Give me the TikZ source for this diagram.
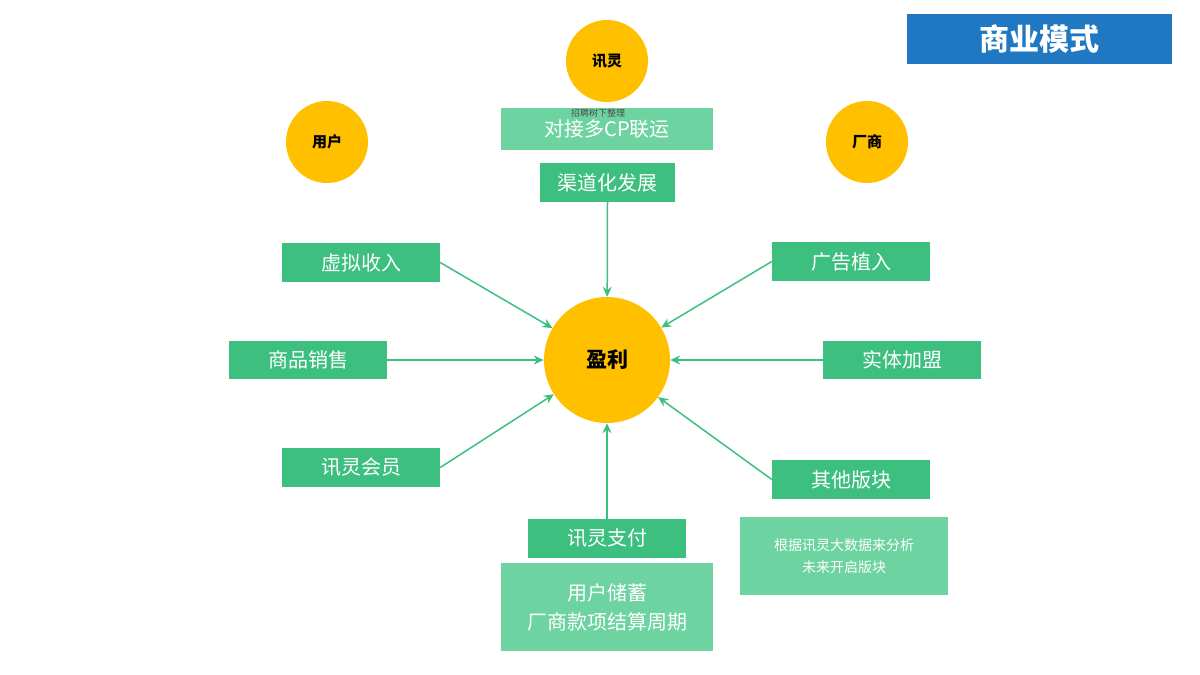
\documentclass[tikz,border=0pt]{standalone}
\usepackage{fontspec}
\newfontfamily\cjk{Noto Sans CJK SC}
\usetikzlibrary{arrows.meta}
\definecolor{gold}{HTML}{FFC000}
\definecolor{gbox}{HTML}{3DBF7F}
\definecolor{lbox}{HTML}{6DD3A0}
\definecolor{tblue}{HTML}{1F78C1}
\begin{document}
\begin{tikzpicture}[x=1pt,y=-1pt,font=\cjk,
  circ/.style={circle,fill=gold,inner sep=0pt},
  gb/.style={fill=gbox,text=white,font=\cjk\fontsize{20}{22}\selectfont},
  lb/.style={fill=lbox,text=white,font=\cjk\fontsize{20}{29}\selectfont,align=center},
  arr/.style={draw=gbox,line width=1.5pt,-{Stealth[length=10pt,width=9pt]}}]
\useasboundingbox (0,0) rectangle (1200,675);
\node[fill=tblue,minimum width=265,minimum height=50,text=white,font=\cjk\bfseries\fontsize{30}{34}\selectfont] (title) at (1039.5,39) {商业模式};
\node[circ,minimum size=82,font=\cjk\bfseries\fontsize{15}{18}\selectfont] (xl) at (607,61) {讯灵};
\node[circ,minimum size=82,font=\cjk\bfseries\fontsize{15}{18}\selectfont] (yh) at (327,142) {用户};
\node[circ,minimum size=82,font=\cjk\bfseries\fontsize{15}{18}\selectfont] (cs) at (867,142) {厂商};
\node[lb,minimum width=212,minimum height=42] (cp) at (607,129) {对接多CP联运};
\node[font=\cjk\fontsize{9}{10}\selectfont,text=black!70] (small) at (598,113) {招聘树下整理};
\node[gb,minimum width=135,minimum height=39] (qd) at (607.5,182.5) {渠道化发展};
\node[circ,minimum size=126,font=\cjk\bfseries\fontsize{21}{24}\selectfont] (yl) at (607,360) {盈利};
\node[gb,minimum width=158,minimum height=39] (xn) at (361,262.5) {虚拟收入};
\node[gb,minimum width=158,minimum height=39] (gg) at (851,261.5) {广告植入};
\node[gb,minimum width=158,minimum height=38] (sp) at (308,360) {商品销售};
\node[gb,minimum width=158,minimum height=38] (st) at (902,360) {实体加盟};
\node[gb,minimum width=158,minimum height=39] (hy) at (361,467.5) {讯灵会员};
\node[gb,minimum width=158,minimum height=39] (qt) at (851,479.5) {其他版块};
\node[gb,minimum width=158,minimum height=39] (zf) at (607,538.5) {讯灵支付};
\node[lb,minimum width=212,minimum height=88] (cx) at (607,607) {用户储蓄\\厂商款项结算周期};
\node[lb,minimum width=208,minimum height=78,font=\cjk\fontsize{14}{22}\selectfont] (fx) at (844,556) {根据讯灵大数据来分析\\未来开启版块};
\draw[arr] (qd.south) -- (yl);
\draw[arr] (zf.north) -- (yl);
\draw[arr] (sp.east) -- (yl);
\draw[arr] (st.west) -- (yl);
\draw[arr] (xn.east) -- (yl);
\draw[arr] (hy.east) -- (yl);
\draw[arr] (gg.west) -- (yl);
\draw[arr] (qt.west) -- (yl);
\end{tikzpicture}
\end{document}
